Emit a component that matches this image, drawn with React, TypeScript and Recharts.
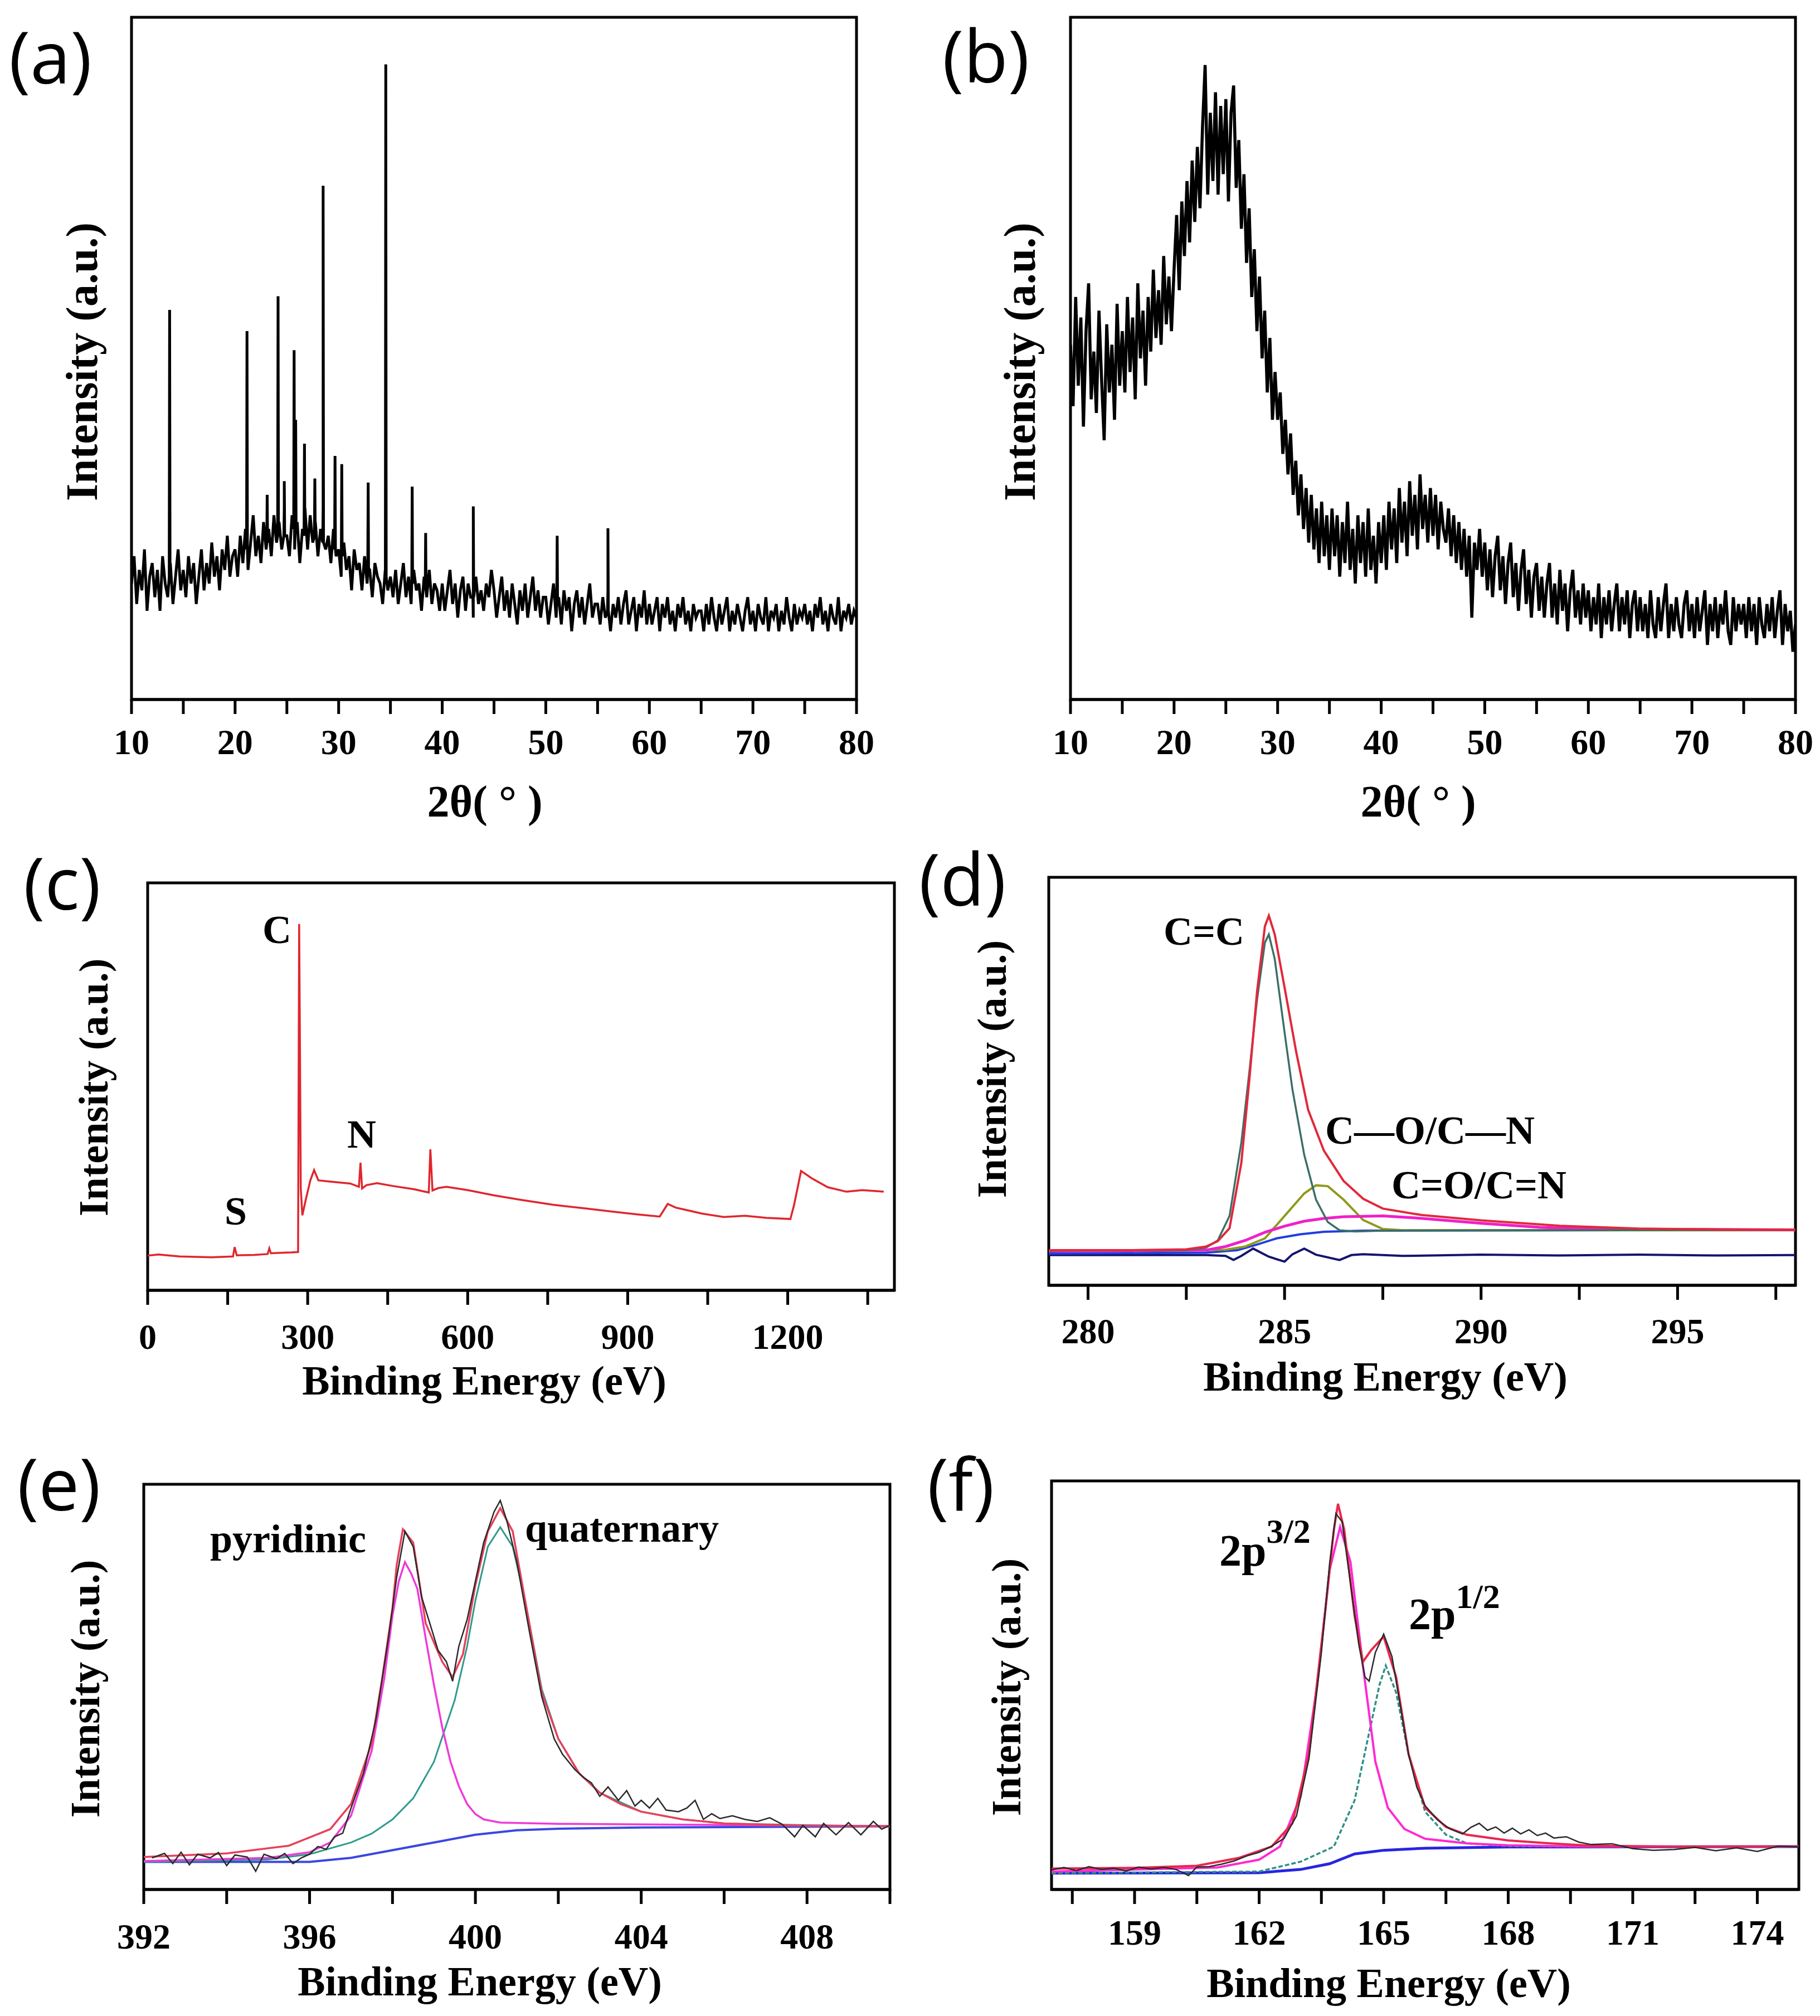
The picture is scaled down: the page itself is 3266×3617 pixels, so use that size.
import React from 'react';
import { LineChart, Line, XAxis, YAxis, ReferenceArea } from 'recharts';

const SERIF = "'Liberation Serif', 'Times New Roman', serif";
const SANS = "'Open Sans', 'Noto Sans', sans-serif";

// ---- (a) XRD, sampled every 0.25 deg from 10 to 80 ----
const A_START = 10;
const A_STEP = 0.25;
const A_NOISE = [
  17, 21, 14, 19, 16, 22, 13, 18, 20, 15, 19, 13, 21, 17, 15, 20, 14, 18, 22, 16,
  19, 15, 21, 17, 20, 14, 18, 22, 16, 20, 17, 23, 18, 21, 16, 22, 19, 24, 18, 21,
  22, 18, 24, 20, 25, 19, 23, 27, 21, 24, 20, 26, 22, 25, 21, 27, 23, 26, 22, 28,
  24, 21, 27, 22, 26, 20, 25, 28, 22, 27, 23, 26, 21, 25, 28, 22, 24, 20, 25, 21,
  22, 18, 23, 19, 21, 16, 22, 19, 20, 16, 21, 17, 19, 15, 20, 18, 17, 14, 19, 16,
  18, 15, 19, 14, 17, 20, 15, 18, 14, 19, 16, 17, 13, 18, 15, 19, 14, 17, 16, 13,
  17, 13, 16, 19, 14, 17, 12, 16, 18, 13, 17, 15, 12, 18, 14, 16, 13, 17, 15, 19,
  16, 12, 15, 18, 13, 16, 12, 17, 14, 11, 16, 13, 17, 12, 15, 18, 13, 16, 12, 15,
  15, 11, 14, 17, 12, 15, 11, 16, 13, 15, 10, 14, 16, 12, 15, 11, 14, 17, 12, 14,
  14, 11, 15, 12, 16, 10, 14, 12, 15, 11, 14, 16, 11, 13, 15, 10, 14, 12, 16, 11,
  14, 11, 13, 15, 10, 14, 12, 15, 11, 13, 10, 14, 12, 15, 11, 13, 10, 14, 12, 13,
  13, 10, 14, 11, 15, 12, 10, 14, 11, 13, 15, 10, 13, 11, 14, 12, 10, 13, 15, 11,
  13, 10, 14, 12, 11, 15, 10, 13, 12, 14, 10, 13, 11, 15, 12, 10, 14, 11, 13, 12,
  14, 11, 13, 10, 14, 12, 15, 11, 13, 10, 14, 12, 11, 15, 10, 13, 12, 14, 11, 13,
  12,
];
// [2theta, peak top, foot]
const A_PEAKS = [
  [13.68, 57.1, 18], [21.15, 54, 22], [23.1, 30, 23], [24.15, 59.1, 24],
  [24.75, 32, 24], [25.7, 51.2, 25], [25.85, 41, 25], [26.7, 37.5, 24],
  [27.7, 32.4, 24], [28.5, 75.3, 23], [29.65, 35.7, 22], [30.3, 34.5, 21],
  [32.85, 31.8, 19], [34.55, 93.1, 18], [37.1, 31.2, 17], [38.4, 24.4, 16],
  [43.0, 28.3, 15], [51.1, 24, 14], [56.0, 25.1, 13],
];

// ---- (b) XRD, amorphous ----
const B_START = 10;
const B_STEP = 0.25;
const B_NOISE = [
  52, 43, 59, 46, 56, 40, 54, 61, 44, 51, 42, 57, 47, 38, 55, 45, 52, 41, 58, 46,
  54, 45, 59, 48, 56, 44, 61, 50, 57, 46, 59, 51, 63, 53, 60, 52, 65, 55, 62, 54,
  63, 71, 60, 73, 65, 76, 67, 79, 70, 81, 72, 84, 93, 74, 86, 76, 89, 74, 87, 77,
  88, 73, 86, 90, 75, 82, 69, 77, 64, 72, 59, 66, 54, 62, 50, 57, 45, 53, 41, 48,
  41, 45, 36, 41, 33, 39, 30, 35, 27, 33, 25, 31, 23, 30, 22, 28, 20, 29, 21, 27,
  19, 28, 21, 27, 18, 26, 20, 29, 19, 25, 17, 27, 20, 26, 18, 28, 19, 24, 17, 26,
  20, 27, 19, 29, 22, 28, 20, 31, 23, 29, 21, 32, 24, 30, 22, 33, 25, 30, 23, 31,
  24, 30, 22, 29, 25, 23, 28, 21, 27, 20, 26, 19, 25, 18, 24, 12, 23, 19, 25, 18,
  23, 16, 22, 15, 21, 24, 16, 21, 14, 20, 23, 15, 20, 13, 19, 22, 14, 19, 12, 18,
  20, 13, 18, 12, 17, 20, 12, 17, 11, 19, 13, 17, 10, 16, 19, 12, 16, 11, 17, 12,
  16, 10, 15, 11, 17, 9, 15, 11, 16, 10, 14, 17, 10, 15, 11, 16, 9, 14, 16, 10,
  15, 10, 14, 9, 16, 11, 9, 15, 10, 14, 17, 9, 14, 10, 15, 11, 9, 14, 16, 10,
  14, 9, 15, 10, 13, 16, 8, 14, 10, 15, 9, 14, 11, 16, 10, 8, 15, 10, 14, 11,
  14, 9, 15, 10, 14, 8, 15, 11, 9, 14, 10, 15, 9, 13, 16, 8, 14, 10, 13, 7,
  11,
];

// ---- (c) XPS survey ----
const C_SURVEY = [
  [0, 8.5], [20, 8.8], [60, 8.3], [120, 8.1], [160, 8.3], [163, 10.6], [167, 8.6],
  [200, 8.7], [225, 8.9], [228, 10.3], [231, 9.1], [270, 9.3], [282, 9.4], [284, 89.9],
  [285.5, 60], [287, 25], [290, 18.4], [296, 22], [305, 27], [312, 29.5], [320, 27],
  [340, 26.7], [380, 26.2], [396, 25.4], [399, 31.3], [402, 25], [410, 25.8], [430, 26.3],
  [460, 25.6], [500, 24.8], [527, 24], [530, 34.6], [534, 24.5], [545, 25.1], [560, 25.4],
  [600, 24.6], [650, 23.3], [700, 22.2], [760, 21], [820, 20.1], [880, 19.2], [920, 18.6],
  [960, 18.1], [975, 21.2], [990, 20.3], [1000, 20], [1040, 18.8], [1080, 18.0],
  [1120, 18.3], [1160, 17.8], [1205, 17.5], [1212, 21], [1225, 29.3], [1245, 27.5],
  [1275, 25.3], [1310, 24.2], [1340, 24.6], [1380, 24.2],
];

// ---- (d) C 1s ----
const D_ENVELOPE = [
  [279, 8.6], [281, 8.6], [282.5, 8.8], [283, 9.5], [283.3, 10.8], [283.6, 14], [283.9, 30],
  [284.1, 50], [284.3, 72], [284.5, 88], [284.6, 90.6], [284.75, 86], [285, 73], [285.3, 57],
  [285.6, 43], [286, 33], [286.5, 25.6], [287, 21.2], [287.5, 18.8], [288.5, 17.2], [290, 15.9],
  [292, 14.6], [294, 13.9], [296, 13.7], [298, 13.6],
];
const D_CC = [
  [279, 8.5], [282.5, 8.6], [283, 9.2], [283.3, 11], [283.6, 17], [283.9, 35], [284.1, 52],
  [284.3, 70], [284.5, 84], [284.6, 86], [284.75, 80], [285, 62], [285.2, 48], [285.5, 32],
  [285.8, 21], [286.1, 15.5], [286.4, 13.5], [286.8, 13.2], [287.5, 13.4], [298, 13.6],
];
const D_CO = [
  [279, 8.4], [283, 8.6], [283.5, 9.5], [284, 11], [284.5, 13], [285, 14.5], [285.5, 15.7],
  [286, 16.4], [286.5, 16.8], [287.5, 17], [288.5, 16.4], [290, 15.2], [291.5, 14.2],
  [293, 13.8], [298, 13.6],
];
const D_CEQO = [
  [279, 8.5], [283.5, 8.7], [284, 9.5], [284.5, 11.5], [285, 17], [285.5, 22.5], [285.8, 24.5],
  [286.1, 24.3], [286.5, 21], [287, 16], [287.5, 13.8], [288, 13.5], [298, 13.5],
];
const D_BASE = [
  [279, 7.8], [283, 8.0], [283.8, 8.6], [284.3, 10], [284.8, 11.5], [285.4, 12.5], [286, 13.1],
  [287, 13.4], [298, 13.6],
];
const D_RESID = [
  [279, 7.4], [283, 7.4], [283.5, 7.2], [283.7, 6.2], [283.9, 7.2], [284.2, 9.0], [284.6, 7],
  [285, 5.8], [285.2, 7.6], [285.5, 9.0], [285.8, 7.5], [286.4, 6.2], [286.7, 7.4], [287, 7.6],
  [288, 7.2], [290, 7.5], [292, 7.3], [294, 7.5], [296, 7.3], [298, 7.4],
];

// ---- (e) N 1s ----
const E_RAW = [
  [392.2, 7.8], [392.5, 8.9], [392.7, 6.4], [392.9, 9.2], [393.1, 6.1], [393.3, 8.7],
  [393.6, 7.8], [393.8, 9.1], [394, 5.9], [394.2, 8.5], [394.5, 8.0], [394.7, 4.5],
  [394.9, 8.7], [395.2, 7.6], [395.4, 8.9], [395.6, 6.4], [395.8, 7.8], [396, 8.7],
  [396.2, 10.6], [396.4, 9.9], [396.6, 13], [396.8, 13.9], [397, 20.1], [397.3, 28.7],
  [397.6, 41.9], [397.9, 61.9], [398.1, 77], [398.3, 88.4], [398.5, 84.6], [398.7, 72.3],
  [398.9, 65.7], [399.1, 59], [399.3, 56.2], [399.45, 51.4], [399.6, 60], [399.8, 66.6],
  [400, 76.1], [400.2, 85.6], [400.45, 93.2], [400.6, 96], [400.75, 91.3], [401, 80.8],
  [401.3, 63.8], [401.6, 47.6], [401.9, 37.2], [402.1, 33.4], [402.4, 29.6], [402.6, 27.7],
  [402.8, 26.3], [403, 23], [403.2, 25.3], [403.45, 22], [403.65, 24.4], [403.85, 20.6],
  [404, 22], [404.2, 20.1], [404.4, 22.5], [404.6, 19.6], [404.9, 19.2], [405.1, 20.1],
  [405.3, 22], [405.5, 17.3], [405.7, 18.7], [405.9, 17.5], [406.2, 18.2], [406.5, 17.3],
  [406.8, 16.8], [407.1, 17.7], [407.4, 16.1], [407.7, 13], [407.9, 15.8], [408.2, 13],
  [408.4, 16.3], [408.7, 13.5], [409, 16.5], [409.3, 13.5], [409.6, 16.8], [409.8, 14.9],
  [410, 15.8],
];
const E_ENVELOPE = [
  [392, 8.0], [394, 8.9], [395.5, 10.8], [396.5, 14.9], [397, 21.1], [397.5, 36.2],
  [397.75, 52], [398, 69.4], [398.1, 80], [398.25, 88.9], [398.5, 85.6], [398.8, 65.7],
  [399.2, 56.2], [399.45, 52.4], [399.7, 58.1], [400, 75.1], [400.3, 88.4], [400.6, 94.1],
  [400.9, 88.4], [401.2, 71.3], [401.6, 48.6], [402, 37.2], [402.5, 28.7], [403, 23.9],
  [403.5, 21.1], [404, 19.2], [405, 17.3], [406, 16.3], [407, 16], [408, 15.7], [410, 15.6],
];
const E_PYRIDINIC = [
  [392, 7.0], [395, 7.8], [396, 9.2], [396.5, 11.6], [397, 18.2], [397.5, 34.3], [397.8, 52],
  [398, 67.6], [398.15, 76], [398.3, 80.8], [398.45, 78], [398.6, 74.2], [398.8, 62],
  [399, 50.5], [399.2, 40], [399.4, 31.5], [399.6, 25.5], [399.8, 21.1], [400, 18.6],
  [400.2, 17.3], [400.6, 16.5], [402, 16.2], [405, 16], [410, 15.6],
];
const E_QUATERNARY = [
  [392, 6.8], [395, 7.4], [396, 8.7], [397, 11.6], [397.5, 13.8], [398, 17.3], [398.5, 22.5],
  [399, 31.5], [399.5, 46.7], [399.8, 60], [400, 71.3], [400.3, 84.6], [400.6, 89.4],
  [400.9, 84.6], [401.2, 71.3], [401.6, 49.5], [402, 37.2], [402.5, 28.7], [403, 23.9],
  [404, 19.2], [405, 17.3], [406, 16.3], [408, 15.9], [410, 15.6],
];
const E_BASE = [
  [392, 6.8], [396, 6.8], [397, 7.8], [398, 9.7], [399, 11.6], [400, 13.5], [401, 14.6],
  [402, 15], [404, 15.3], [410, 15.6],
];

// ---- (f) S 2p ----
const F_RAW = [
  [157, 4.8], [157.3, 5.4], [157.6, 4.6], [157.9, 5.6], [158.2, 4.9], [158.5, 5.2], [158.8, 4.5],
  [159.1, 5.5], [159.4, 5.0], [159.7, 5.4], [160, 4.9], [160.3, 3.4], [160.5, 5.5], [160.8, 5.6],
  [161.1, 6.2], [161.4, 7.0], [161.7, 8.2], [162, 9.1], [162.3, 10.6], [162.6, 12.5], [162.9, 18],
  [163.2, 32], [163.5, 58], [163.7, 80], [163.85, 92], [164, 90], [164.2, 75], [164.4, 60],
  [164.55, 52], [164.65, 51], [164.8, 58], [165, 62.5], [165.2, 57], [165.4, 45], [165.6, 33],
  [165.8, 25], [166, 20.5], [166.3, 17], [166.6, 14.8], [166.9, 13.6], [167.1, 15.2],
  [167.3, 16.2], [167.5, 14.5], [167.7, 15.3], [167.9, 13.8], [168.1, 15.0], [168.3, 13.6],
  [168.5, 14.6], [168.7, 13.2], [168.9, 13.8], [169.1, 12.6], [169.4, 12.9], [169.7, 11.6],
  [170, 11.0], [170.5, 11.2], [171, 10.0], [171.5, 9.6], [172, 9.8], [172.5, 10.3], [173, 9.5],
  [173.5, 10.2], [174, 9.3], [174.5, 10.6], [175, 10.4],
];
const F_ENVELOPE = [
  [157, 5.1], [159, 5.3], [160.5, 5.8], [161.5, 7.7], [162.3, 10.5], [162.8, 16.2], [163.2, 33.1],
  [163.6, 68.9], [163.8, 88], [163.9, 94.4], [164.05, 88], [164.3, 67], [164.5, 55.7],
  [164.7, 58.6], [165, 61.9], [165.3, 52], [165.6, 33.1], [166, 20], [166.5, 15.3], [167, 13.4],
  [168, 12], [169, 11.3], [170, 10.7], [172, 10.5], [175, 10.5],
];
const F_P32 = [
  [157, 4.4], [161, 5.4], [162, 7.3], [162.5, 10.5], [163, 22.8], [163.4, 50.1], [163.7, 78.3],
  [163.95, 88.7], [164.2, 80.2], [164.5, 54.8], [164.8, 31.3], [165.1, 20], [165.5, 14.8],
  [166, 12.4], [167, 11.3], [168, 10.8], [170, 10.5], [175, 10.5],
];
const F_P12 = [
  [157, 4.0], [162, 4.4], [163, 6.8], [163.8, 10.5], [164.3, 21.8], [164.6, 36], [164.9, 50.1],
  [165.05, 54.8], [165.3, 48.2], [165.6, 33.1], [166, 19], [166.5, 13.4], [167, 11.3],
  [168, 10.6], [170, 10.5], [175, 10.5],
];
const F_BASE = [
  [157, 4.0], [162, 4.1], [163, 4.9], [163.7, 6.3], [164.3, 8.7], [165, 9.6], [166, 10.1],
  [168, 10.4], [175, 10.5],
];

// ---- axes ----
const XRD_TICKS = [10, 15, 20, 25, 30, 35, 40, 45, 50, 55, 60, 65, 70, 75, 80];
const XRD_LABELS = [10, 20, 30, 40, 50, 60, 70, 80];
const C_TICKS = [0, 150, 300, 450, 600, 750, 900, 1050, 1200, 1350];
const C_LABELS = [0, 300, 600, 900, 1200];
const D_TICKS = [280, 282.5, 285, 287.5, 290, 292.5, 295, 297.5];
const D_LABELS = [280, 285, 290, 295];
const E_TICKS = [392, 394, 396, 398, 400, 402, 404, 406, 408, 410];
const E_LABELS = [392, 396, 400, 404, 408];
const F_TICKS = [157.5, 159, 160.5, 162, 163.5, 165, 166.5, 168, 169.5, 171, 172.5, 174];
const F_LABELS = [159, 162, 165, 168, 171, 174];

const pts = (pairs) => pairs.map(([x, y]) => ({ x, y }));

const xrdTable = (noise, x0, step, peaks = []) => {
  const rows = noise.map((y, i) => ({ x: x0 + i * step, y }));
  peaks.forEach(([x, top, foot]) => {
    rows.push({ x: x - 0.04, y: foot }, { x, y: top }, { x: x + 0.04, y: foot });
  });
  return rows.sort((a, b) => a.x - b.x);
};

const PAD = 12;
const PAD_X = 90;
const AXIS_H = 150;

function Panel({ box, domain, ticks, labels, margin, series }) {
  const [L, T, R, B] = box;
  const w = R - L + PAD_X * 2;
  const h = B - T + PAD + AXIS_H;
  return (
    <div style={{ position: 'absolute', left: L - PAD_X, top: T - PAD }}>
      <LineChart width={w} height={h} margin={{ top: PAD, right: PAD_X, bottom: 0, left: PAD_X }}>
        <XAxis
          type="number"
          dataKey="x"
          domain={domain}
          allowDataOverflow
          ticks={ticks}
          interval={0}
          tickFormatter={(v) => (labels.includes(v) ? String(v) : '')}
          height={AXIS_H}
          tickSize={26}
          tickMargin={margin}
          axisLine={{ stroke: '#000', strokeWidth: 5 }}
          tickLine={{ stroke: '#000', strokeWidth: 5 }}
          tick={{ fontFamily: SERIF, fontSize: 64, fontWeight: 700, fill: '#000' }}
        />
        <YAxis type="number" domain={[0, 100]} hide allowDataOverflow />
        {series.map((s, i) => (
          <Line
            key={i}
            data={s.data}
            dataKey="y"
            type="linear"
            stroke={s.color}
            strokeWidth={s.width}
            strokeDasharray={s.dash}
            strokeLinejoin="miter"
            dot={false}
            isAnimationActive={false}
          />
        ))}
        <ReferenceArea
          x1={domain[0]}
          x2={domain[1]}
          y1={0}
          y2={100}
          fill="none"
          stroke="#000"
          strokeWidth={5}
          ifOverflow="visible"
        />
      </LineChart>
    </div>
  );
}

const bold = { fontFamily: SERIF, fontWeight: 700, fill: '#000' };

function YLabel({ x, y, size }) {
  return (
    <text
      x={x}
      y={y}
      transform={`rotate(-90 ${x} ${y})`}
      textAnchor="middle"
      dominantBaseline="central"
      fontSize={size}
      {...bold}
    >
      Intensity (a.u.)
    </text>
  );
}

function Tag({ x, y, children }) {
  return (
    <text x={x} y={y} fontFamily={SANS} fontSize={130} fill="#000">
      {children}
    </text>
  );
}

export default function App() {
  const dataA = xrdTable(A_NOISE, A_START, A_STEP, A_PEAKS);
  const dataB = xrdTable(B_NOISE, B_START, B_STEP);

  return (
    <div style={{ position: 'absolute', left: 0, top: 0, width: 3266, height: 3617, background: '#fff' }}>
      <Panel
        box={[236, 31, 1537, 1255]}
        domain={[10, 80]}
        ticks={XRD_TICKS}
        labels={XRD_LABELS}
        margin={27}
        series={[{ data: dataA, color: '#000', width: 5 }]}
      />
      <Panel
        box={[1921, 31, 3222, 1255]}
        domain={[10, 80]}
        ticks={XRD_TICKS}
        labels={XRD_LABELS}
        margin={27}
        series={[{ data: dataB, color: '#000', width: 5.5 }]}
      />
      <Panel
        box={[265, 1584, 1605, 2315]}
        domain={[0, 1400]}
        ticks={C_TICKS}
        labels={C_LABELS}
        margin={34}
        series={[{ data: pts(C_SURVEY), color: '#e0262e', width: 3.5 }]}
      />
      <Panel
        box={[1882, 1574, 3222, 2306]}
        domain={[279, 298]}
        ticks={D_TICKS}
        labels={D_LABELS}
        margin={33}
        series={[
          { data: pts(D_RESID), color: '#141470', width: 4 },
          { data: pts(D_BASE), color: '#1f3fe0', width: 4 },
          { data: pts(D_CEQO), color: '#8f9a1c', width: 4 },
          { data: pts(D_CO), color: '#f01fc8', width: 5 },
          { data: pts(D_CC), color: '#3b6f68', width: 3.5 },
          { data: pts(D_ENVELOPE), color: '#e2283c', width: 4 },
        ]}
      />
      <Panel
        box={[258, 2663, 1597, 3390]}
        domain={[392, 410]}
        ticks={E_TICKS}
        labels={E_LABELS}
        margin={35}
        series={[
          { data: pts(E_BASE), color: '#3a48e0', width: 4 },
          { data: pts(E_QUATERNARY), color: '#2f9a8c', width: 3 },
          { data: pts(E_PYRIDINIC), color: '#f03ad8', width: 3.5 },
          { data: pts(E_ENVELOPE), color: '#e8405a', width: 3.5 },
          { data: pts(E_RAW), color: '#2a2a2a', width: 2.5 },
        ]}
      />
      <Panel
        box={[1887, 2657, 3228, 3390]}
        domain={[157, 175]}
        ticks={F_TICKS}
        labels={F_LABELS}
        margin={28}
        series={[
          { data: pts(F_BASE), color: '#2626e0', width: 5 },
          { data: pts(F_P12), color: '#2f8f86', width: 3.5, dash: '8 4' },
          { data: pts(F_P32), color: '#ff2ad0', width: 4 },
          { data: pts(F_ENVELOPE), color: '#e8284e', width: 4 },
          { data: pts(F_RAW), color: '#2a2a2a', width: 2.5 },
        ]}
      />

      <svg
        width={3266}
        height={3617}
        style={{ position: 'absolute', left: 0, top: 0, pointerEvents: 'none' }}
      >
        <Tag x={16} y={150}>(a)</Tag>
        <Tag x={1691} y={148}>(b)</Tag>
        <Tag x={42} y={1632}>(c)</Tag>
        <Tag x={1649} y={1625}>(d)</Tag>
        <Tag x={31} y={2710}>(e)</Tag>
        <Tag x={1664} y={2710}>(f)</Tag>

        <YLabel x={147} y={649} size={80} />
        <YLabel x={1830} y={649} size={80} />
        <YLabel x={168} y={1951} size={74} />
        <YLabel x={1780} y={1918} size={74} />
        <YLabel x={153} y={3030} size={74} />
        <YLabel x={1806} y={3027} size={74} />

        <text x={870} y={1465} textAnchor="middle" fontSize={80} {...bold}>2θ( ° )</text>
        <text x={2545} y={1465} textAnchor="middle" fontSize={80} {...bold}>2θ( ° )</text>
        <text x={869} y={2502} textAnchor="middle" fontSize={74} {...bold}>Binding Energy (eV)</text>
        <text x={2486} y={2495} textAnchor="middle" fontSize={74} {...bold}>Binding Energy (eV)</text>
        <text x={861} y={3580} textAnchor="middle" fontSize={74} {...bold}>Binding Energy (eV)</text>
        <text x={2492} y={3583} textAnchor="middle" fontSize={74} {...bold}>Binding Energy (eV)</text>

        <text x={471} y={1692} fontSize={72} {...bold}>C</text>
        <text x={623} y={2059} fontSize={72} {...bold}>N</text>
        <text x={403} y={2197} fontSize={72} {...bold}>S</text>

        <text x={2088} y={1695} fontSize={72} {...bold}>C=C</text>
        <text x={2378} y={2052} fontSize={72} {...bold}>C—O/C—N</text>
        <text x={2497} y={2150} fontSize={72} {...bold}>C=O/C=N</text>

        <text x={377} y={2785} fontSize={72} {...bold}>pyridinic</text>
        <text x={942} y={2766} fontSize={72} {...bold}>quaternary</text>

        <text x={2188} y={2809} fontSize={80} {...bold}>
          2p<tspan dy={-41} fontSize={62}>3/2</tspan>
        </text>
        <text x={2528} y={2923} fontSize={80} {...bold}>
          2p<tspan dy={-38} fontSize={62}>1/2</tspan>
        </text>
      </svg>
    </div>
  );
}
